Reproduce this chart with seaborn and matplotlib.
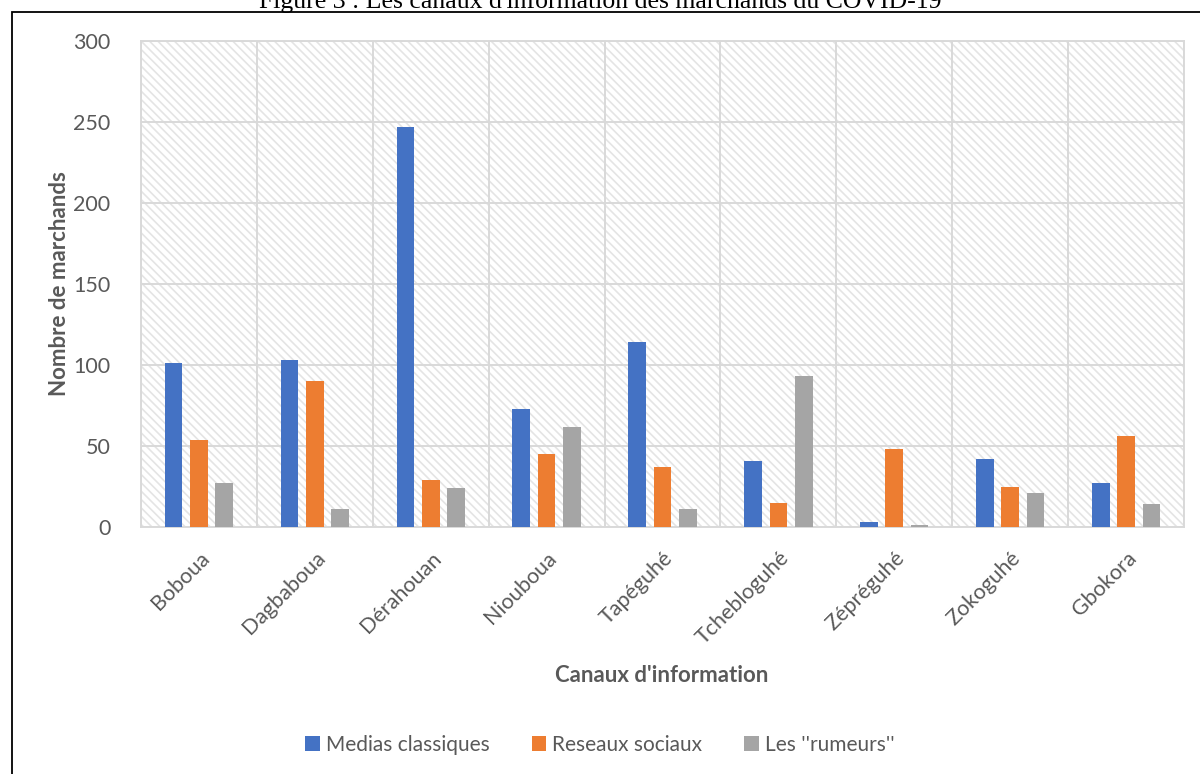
import matplotlib
matplotlib.use("Agg")
import matplotlib.pyplot as plt
from matplotlib.patches import Rectangle, Patch
import seaborn as sns
import pandas as pd

villages = ["Boboua", "Dagbaboua", "Dérahouan", "Niouboua", "Tapéguhé",
            "Tchebloguhé", "Zépréguhé", "Zokoguhé", "Gbokora"]
series_names = ["Medias classiques", "Reseaux sociaux", "Les ''rumeurs''"]
medias_classiques = [101, 103, 247, 73, 114, 41, 3, 42, 27]
reseaux_sociaux = [54, 90, 29, 45, 37, 15, 48, 25, 56]
rumeurs = [27, 11, 24, 62, 11, 93, 1, 21, 14]
y_ticks = [0, 50, 100, 150, 200, 250, 300]
colors = ["#4472C4", "#ED7D31", "#A5A5A5"]

df = pd.DataFrame({
    "village": villages * 3,
    "canal": [series_names[0]] * 9 + [series_names[1]] * 9 + [series_names[2]] * 9,
    "valeur": medias_classiques + reseaux_sociaux + rumeurs,
})

sns.set_theme(style="white")
plt.rcParams["font.family"] = ["Lato", "DejaVu Sans"]
plt.rcParams["hatch.linewidth"] = 1.2

fig = plt.figure(figsize=(12, 7.74), dpi=100)
ax = fig.add_axes([141 / 1200, 1 - 527 / 774, (1184 - 141) / 1200, (527 - 41) / 774])

# hatched plot-area background
bg = Rectangle((0, 0), 1, 1, transform=ax.transAxes, facecolor="white",
               edgecolor="#e4e4e4", linewidth=0, hatch="\\\\\\\\", zorder=0)
ax.add_patch(bg)

sns.barplot(data=df, x="village", y="valeur", hue="canal", palette=colors,
            order=villages, hue_order=series_names, width=0.656, gap=0.3,
            saturation=1, linewidth=0, ax=ax, legend=False, zorder=3)

ax.set_ylim(0, 300)
ax.set_xlim(-0.5, len(villages) - 0.5)
ax.set_yticks(y_ticks)
ax.set_yticklabels([str(v) for v in y_ticks], fontsize=15.5, color="#595959")

# grid: horizontal at ticks, vertical between categories
for v in y_ticks:
    ax.axhline(v, color="#d9d9d9", lw=1.4, zorder=1)
for i in range(len(villages) + 1):
    ax.axvline(i - 0.5, color="#d9d9d9", lw=1.4, zorder=1)
for s in ax.spines.values():
    s.set_color("#d9d9d9")
    s.set_linewidth(1.4)

ax.tick_params(axis="both", length=0)
ax.tick_params(axis="y", pad=22)
ax.set_xticks(range(len(villages)))
ax.set_xticklabels(villages, rotation=45, ha="right", rotation_mode="anchor",
                   fontsize=15.5, color="#595959")
ax.tick_params(axis="x", pad=15)

ax.set_ylabel("")
ax.set_xlabel("")
fig.text(60 / 1200, 1 - 284 / 774, "Nombre de marchands", fontsize=16,
         fontweight="bold", color="#595959", ha="center", va="center",
         rotation=90)
fig.text(662 / 1200, 1 - 675 / 774, "Canaux d'information", fontsize=16,
         fontweight="bold", color="#595959", ha="center", va="center")

handles = [Patch(facecolor=c, edgecolor="none") for c in colors]
fig.legend(handles, series_names, loc="center", bbox_to_anchor=(0.5, 1 - 745 / 774),
           ncol=3, frameon=False, fontsize=15, handlelength=0.7, handleheight=0.7,
           handletextpad=0.3, columnspacing=2.0, labelcolor="#595959")

# outer frame and caption
fig.patches.append(Rectangle((12 / 1200, -0.05), 1.2, 1 - 12 / 774 + 0.05,
                             transform=fig.transFigure, fill=False,
                             edgecolor="black", linewidth=1.3))
fig.text(0.5, 1 - 8 / 774, "Figure 3 : Les canaux d'information des marchands du COVID-19",
         family="Liberation Serif", fontsize=18.5, ha="center", va="baseline",
         color="black")

fig.savefig("out.png", dpi=100)
